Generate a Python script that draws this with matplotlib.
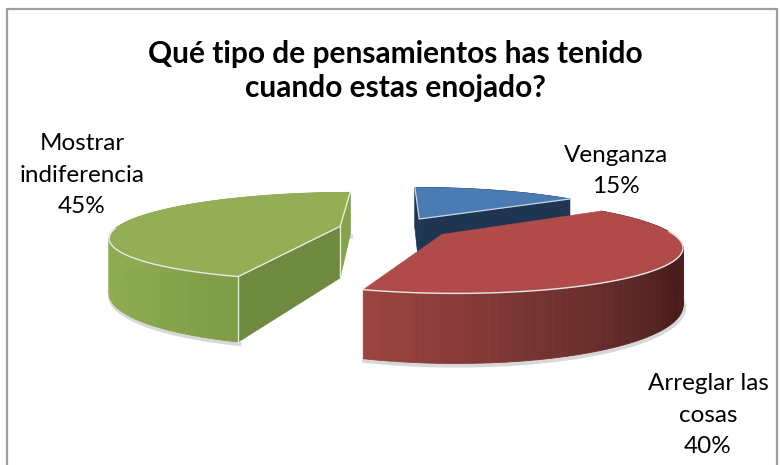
import numpy as np
import matplotlib
matplotlib.use("Agg")
import matplotlib.pyplot as plt
from matplotlib.colors import to_rgb
from matplotlib.patches import Rectangle

plt.rcParams['font.family'] = ['Lato', 'DejaVu Sans']

title = "Qué tipo de pensamientos has tenido\ncuando estas enojado?"
categories = ["Venganza", "Arreglar las\ncosas", "Mostrar\nindiferencia"]
values = [15, 40, 45]

top_colors = ["#4a7bb3", "#b14b49", "#93ae55"]
# wall gradient along the arc, clockwise
wall_colors = [["#1f3552", "#1f3552"],
               ["#532221", "#532221", "#491c1c", "#632b2a", "#7f3736", "#9c4442"],
               ["#7f9c46", "#8aa74e", "#8fac52", "#8fac52"]]
wall_pos = [[0, 1], [0, 0.28, 0.46, 0.64, 0.82, 1], [0, 0.15, 0.3, 1]]
start_wall = ["#1f3552", None, "#6f893e"]
end_wall = ["#1f3552", None, "#84a34b"]

# projection of the pie plane to pixels
X0 = 395
YH = 40
H = 188
F = 224
K = 0.225
EXPLODE = 0.25
THICK = 52


def proj(x, y):
    w = 1 + K * y
    return X0 + F * x / w, YH + H / w, THICK / w


def rim(off, ang):
    a = np.radians(ang)
    return proj(off[0] + np.cos(a), off[1] + np.sin(a))


fig = plt.figure(figsize=(7.81, 4.65), dpi=100)
ax = fig.add_axes([0, 0, 1, 1])
ax.set_xlim(0, 781)
ax.set_ylim(465, 0)
ax.axis("off")
ax.add_patch(Rectangle((6.5, 9), 770, 470, fc="white", ec="#9e9e9e", lw=1.6))

# slice angles, clockwise from 12 o'clock
edges = 90 - np.cumsum([0] + values) * 3.6
z = 2
for i in [0, 2, 1]:  # back to front
    a0, a1 = edges[i], edges[i + 1]
    mid = np.radians((a0 + a1) / 2)
    off = (EXPLODE * np.cos(mid), EXPLODE * np.sin(mid))
    ap = proj(off[0], off[1])
    angs = np.linspace(a0, a1, 90)
    sx, sy, st = rim(off, angs)

    # soft shadow under the wall
    if i != 0:
        ax.plot(sx + 1, sy + st + 2, color="#808080", lw=3, alpha=0.3, zorder=z)
    z += 1

    # outer wall in strips for the gradient
    stops = np.array([to_rgb(c) for c in wall_colors[i]])
    for j in range(len(angs) - 1):
        t = j / (len(angs) - 2)
        c = [np.interp(t, wall_pos[i], stops[:, n]) for n in range(3)]
        ax.fill([sx[j], sx[j + 1], sx[j + 1], sx[j]],
                [sy[j], sy[j + 1], sy[j + 1] + st[j + 1], sy[j] + st[j]],
                color=c, lw=0.6, zorder=z)
    z += 1

    # radial walls
    if start_wall[i]:
        ax.fill([ap[0], sx[0], sx[0], ap[0]],
                [ap[1], sy[0], sy[0] + st[0], ap[1] + ap[2]],
                color=start_wall[i], lw=0.5, zorder=z)
    if end_wall[i]:
        ax.fill([ap[0], sx[-1], sx[-1], ap[0]],
                [ap[1], sy[-1], sy[-1] + st[-1], ap[1] + ap[2]],
                color=end_wall[i], lw=0.5, zorder=z)
    z += 1

    # top face
    ax.fill(np.r_[ap[0], sx], np.r_[ap[1], sy], color=top_colors[i], lw=0.4, zorder=z)
    z += 1

    # light edges
    ec = "#e8e8e8"
    if i == 0:
        ax.plot([sx[0], ap[0], sx[-1]], [sy[0], ap[1], sy[-1]], color="#c8d6e6", lw=0.9, zorder=z)
    if i == 2:
        ax.plot([sx[0], ap[0], sx[-1]], [sy[0], ap[1], sy[-1]], color=ec, lw=1, zorder=z)
        ax.plot([ap[0], ap[0]], [ap[1], ap[1] + ap[2]], color=ec, lw=1, zorder=z)
        ax.plot([sx[0], sx[0]], [sy[0], sy[0] + st[0]], color=ec, lw=1, zorder=z)
        k = angs > -178
        ax.plot(sx[k], sy[k], color=ec, lw=1, zorder=z)
    if i == 1:
        k = angs < 5
        ax.plot(sx[k], sy[k], color=ec, lw=1, zorder=z)
    z += 1

ax.text(395, 71, title, ha="center", va="center", fontsize=21.5, fontweight="bold",
        color="black", linespacing=1.3, zorder=50)

lab_x = [616, 708, 82]
lab_y = [171, 415, 175]
for i in range(3):
    ax.text(lab_x[i], lab_y[i], "%s\n%d%%" % (categories[i], values[i]), ha="center", va="center",
            fontsize=17.5, color="black", linespacing=1.62, zorder=50)

fig.savefig("out.png", dpi=100)
